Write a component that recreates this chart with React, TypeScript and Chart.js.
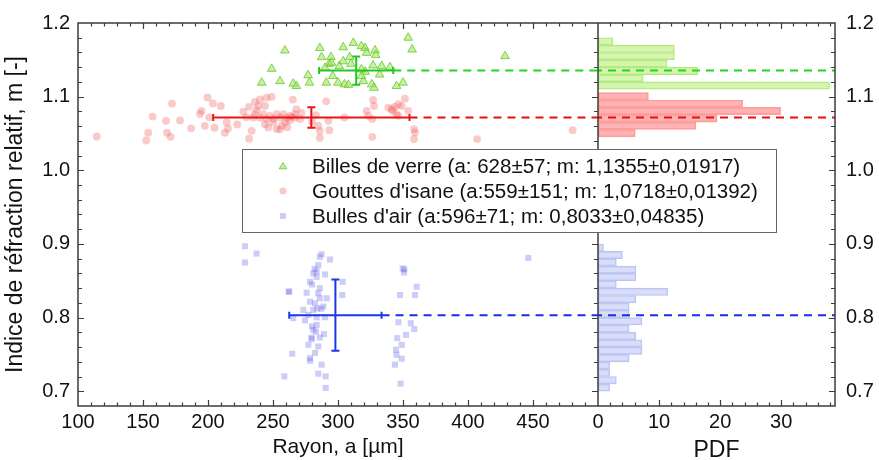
import React, { useEffect, useRef } from 'react';
import { Chart, registerables } from 'chart.js';

Chart.register(...registerables);

// ---------- axes ----------
const X_TICKS = [100, 150, 200, 250, 300, 350, 400, 450];
const X2_TICKS = [0, 10, 20, 30];
const Y_TICKS = [0.7, 0.8, 0.9, 1.0, 1.1, 1.2];
const X_MIN = 100, X_MAX = 500;
const X2_MIN = 0, X2_MAX = 38.8;
const Y_MIN = 0.68, Y_MAX = 1.2;

// ---------- series labels ----------
const LABELS = [
  'Billes de verre (a: 628±57; m: 1,1355±0,01917)',
  "Gouttes d'isane (a:559±151; m: 1,0718±0,01392)",
  "Bulles d'air (a:596±71; m: 0,8033±0,04835)",
];

// ---------- scatter: Billes de verre ----------
const GREEN_A = [259.2, 249, 241.3, 255.4, 265.6, 268, 277, 278, 286, 287.4, 294.6, 293.3, 290, 301, 304, 309, 310, 311.8, 318, 320.8, 322, 328.5, 329, 320.8, 327, 333.6, 340, 332, 291, 300, 305, 308, 319.5, 326, 327.7, 345, 350, 354, 357, 428.5, 318, 318, 304, 296, 295];
const GREEN_M = [1.1627, 1.1378, 1.119, 1.121, 1.1176, 1.1145, 1.129, 1.119, 1.166, 1.1536, 1.1536, 1.1446, 1.139, 1.1415, 1.167, 1.1536, 1.1446, 1.173, 1.1685, 1.166, 1.1595, 1.1627, 1.1564, 1.1338, 1.1424, 1.1415, 1.14, 1.13, 1.119, 1.119, 1.1167, 1.116, 1.121, 1.1167, 1.112, 1.1145, 1.119, 1.18, 1.164, 1.155, 1.137, 1.128, 1.148, 1.128, 1.146];

// ---------- scatter: Gouttes d'isane ----------
const RED_A = [114.4, 157.4, 167.7, 172.3, 178.5, 154, 152.5, 168.5, 171.3, 187, 193.8, 195, 197.5, 199.6, 203.8, 209.8, 201, 205, 213, 214.4, 215.4, 222.5, 227.2, 229.5, 231.5, 234.9, 233.6, 231.6, 236, 238.7, 240, 245, 249, 243.8, 237.4, 236, 240, 242.5, 245.2, 247.7, 250.2, 252.8, 255.4, 258, 260.5, 264.4, 267, 243.8, 246.4, 250.2, 252.8, 256.7, 259.2, 263, 270.8, 265.3, 284.8, 286, 286, 290.9, 293.3, 292.6, 305, 322, 323.3, 327, 327.7, 326.4, 326.4, 338.7, 341.3, 343.8, 346.4, 342, 345, 349, 351.5, 354, 346.4, 358.5, 359.2, 358.5, 407, 480.5, 263, 267, 255.4, 261, 272, 268, 280, 283];
const RED_M = [1.0459, 1.073, 1.0672, 1.0906, 1.0677, 1.051, 1.0405, 1.051, 1.0455, 1.057, 1.0766, 1.0807, 1.0604, 1.099, 1.0908, 1.0874, 1.072, 1.0578, 1.051, 1.065, 1.0565, 1.0622, 1.0795, 1.072, 1.0862, 1.0716, 1.0536, 1.043, 1.093, 1.0874, 1.0962, 1.0986, 1.0996, 1.0874, 1.0816, 1.0766, 1.0716, 1.0762, 1.0695, 1.074, 1.0695, 1.0762, 1.0716, 1.0762, 1.0708, 1.0726, 1.0762, 1.0627, 1.0582, 1.065, 1.056, 1.0604, 1.065, 1.0681, 1.0695, 1.096, 1.0605, 1.0536, 1.0442, 1.0937, 1.0545, 1.0672, 1.0717, 1.0807, 1.074, 1.0955, 1.0874, 1.0695, 1.0455, 1.0852, 1.083, 1.0861, 1.0897, 1.0807, 1.0762, 1.0874, 1.0973, 1.0807, 1.074, 1.056, 1.0514, 1.0424, 1.0424, 1.0545, 1.074, 1.0716, 1.0556, 1.0585, 1.078, 1.083, 1.066, 1.075];

// ---------- scatter: Bulles d'air ----------
const BLUE_A = [228.5, 237.4, 228.5, 262, 265.6, 264.8, 258.7, 274.6, 275.9, 278.5, 279.7, 281, 286, 287.4, 293.8, 284.8, 281, 283.6, 290, 278.5, 284.8, 286, 291.3, 278.5, 282.3, 288.7, 281, 277.2, 283.6, 290, 283.6, 283, 289.2, 284.8, 277.2, 282.3, 287.4, 284.8, 290.5, 290.5, 303.6, 303.3, 283.6, 273.3, 279.7, 278.5, 349.8, 350.8, 347.7, 360.5, 359.2, 346.4, 356, 358.7, 352.3, 345.6, 349, 344.6, 345, 349, 343.8, 348.2, 446.4, 282, 286, 280, 287, 284, 280, 286, 262.5, 351];
const BLUE_M = [0.8969, 0.887, 0.8748, 0.8351, 0.7992, 0.751, 0.7203, 0.7962, 0.8338, 0.745, 0.7708, 0.7834, 0.8825, 0.8861, 0.8789, 0.8712, 0.86, 0.8554, 0.8586, 0.8486, 0.833, 0.8262, 0.8262, 0.8216, 0.8195, 0.815, 0.8105, 0.8038, 0.8005, 0.8005, 0.7901, 0.7811, 0.7776, 0.7608, 0.7631, 0.7519, 0.7361, 0.7239, 0.7203, 0.7046, 0.8486, 0.8307, 0.8626, 0.8105, 0.773, 0.7415, 0.8667, 0.8613, 0.8307, 0.8419, 0.8307, 0.7938, 0.7924, 0.7843, 0.7766, 0.7721, 0.7631, 0.7564, 0.7496, 0.7442, 0.7361, 0.7104, 0.8811, 0.866, 0.84, 0.845, 0.812, 0.8125, 0.788, 0.773, 0.8355, 0.8655];

// ---------- mean ± sd (radius = a/2) ----------
const MEAN_A = [314, 279.5, 298];
const SD_A = [28.5, 75.5, 35.5];
const MEAN_M = [1.1355, 1.0718, 0.8033];
const SD_M = [0.01917, 0.01392, 0.04835];

// ---------- PDF histograms (bin centres in m, PDF values) ----------
const GREEN_BINS = [1.175, 1.165, 1.155, 1.145, 1.135, 1.125, 1.115];
const GREEN_PDF = [2.4, 12.5, 12.5, 11.3, 16.3, 7.4, 37.9];
const RED_BINS = [1.1005, 1.0905, 1.0805, 1.0705, 1.0605, 1.0505];
const RED_PDF = [8.25, 23.7, 29.9, 19.5, 16.0, 6.1];
const BLUE_BINS = [0.895, 0.885, 0.875, 0.865, 0.855, 0.845, 0.835, 0.825, 0.815, 0.805, 0.795, 0.785, 0.775, 0.765, 0.755, 0.745, 0.735, 0.725, 0.715, 0.705];
const BLUE_PDF = [0.9, 4.0, 3.0, 6.2, 6.2, 3.0, 11.4, 6.2, 5.1, 5.1, 7.2, 5.1, 6.2, 7.2, 7.2, 5.1, 1.9, 1.9, 3.0, 1.9];

// ---------- styles ----------
const FONT = "'Liberation Sans', Arial, sans-serif";
const LINE_COLORS = ['rgb(34,200,34)', 'rgb(235,20,20)', 'rgb(30,55,230)'];
const DASH_COLORS = ['rgb(30,215,30)', 'rgb(230,15,15)', 'rgb(25,45,225)'];
const POINT_FILL = ['rgba(160,230,100,0.6)', 'rgba(240,90,90,0.33)', 'rgba(100,100,230,0.32)'];
const POINT_BORDER = ['rgba(105,200,40,0.8)', 'rgba(0,0,0,0)', 'rgba(0,0,0,0)'];
const BAR_FILL = ['rgba(200,242,150,0.75)', 'rgba(255,150,150,0.72)', 'rgba(200,206,246,0.7)'];
const BAR_BORDER = ['rgba(175,232,125,1)', 'rgba(255,160,160,1)', 'rgba(188,195,242,1)'];
const CAP_DX = 3.1; // µm
const CAP_DY = 0.0048;

const toPts = (xs: number[], ys: number[]) => xs.map((x, i) => ({ x, y: ys[i] }));

function errorBar(i: number) {
  const cx = MEAN_A[i], cy = MEAN_M[i], ex = SD_A[i], ey = SD_M[i];
  const gap = { x: cx, y: null as any };
  return [
    { x: cx - ex, y: cy }, { x: cx + ex, y: cy }, gap,
    { x: cx, y: cy - ey }, { x: cx, y: cy + ey }, gap,
    { x: cx - ex, y: cy - CAP_DY }, { x: cx - ex, y: cy + CAP_DY }, gap,
    { x: cx + ex, y: cy - CAP_DY }, { x: cx + ex, y: cy + CAP_DY }, gap,
    { x: cx - CAP_DX, y: cy - ey }, { x: cx + CAP_DX, y: cy - ey }, gap,
    { x: cx - CAP_DX, y: cy + ey }, { x: cx + CAP_DX, y: cy + ey },
  ];
}

const framePlugin = {
  id: 'frameTicks',
  afterDraw(chart: any) {
    const ctx: CanvasRenderingContext2D = chart.ctx;
    const a = chart.chartArea;
    const sx = chart.scales.x, sx2 = chart.scales.x2, sy = chart.scales.y;
    const MAJ = 6, MIN = 3.5;
    ctx.save();
    ctx.strokeStyle = '#3c3c3c';
    ctx.lineWidth = 1.2;
    ctx.beginPath();
    const hTicks = (scale: any, n: number, step: number, majorEvery: number) => {
      for (let k = 0; k <= n; k++) {
        const v = scale.min + k * step;
        if (v > scale.max + 1e-9) break;
        const px = Math.round(scale.getPixelForValue(v)) + 0.5;
        if (px <= scale.left + 1.5 || px >= scale.right - 1.5) continue;
        const len = k % majorEvery === 0 ? MAJ : MIN;
        ctx.moveTo(px, a.bottom); ctx.lineTo(px, a.bottom - len);
        ctx.moveTo(px, a.top); ctx.lineTo(px, a.top + len);
      }
    };
    hTicks(sx, 40, 10, 5);
    hTicks(sx2, 20, 2, 5);
    const mid = sx.right;
    for (let k = 1; k <= 26; k++) {
      const v = Y_MIN + k * 0.02;
      if (v > Y_MAX + 1e-9) break;
      const py = Math.round(sy.getPixelForValue(v)) + 0.5;
      if (py <= a.top + 1.5 || py >= a.bottom - 1.5) continue;
      const major = Math.abs(v * 10 - Math.round(v * 10)) < 1e-6;
      const len = major ? MAJ : MIN + 0.5;
      ctx.moveTo(a.left, py); ctx.lineTo(a.left + len, py);
      ctx.moveTo(mid, py); ctx.lineTo(mid - len, py);
      ctx.moveTo(a.right, py); ctx.lineTo(a.right - len, py);
    }
    ctx.stroke();
    ctx.lineWidth = 1.5;
    ctx.strokeRect(a.left, a.top, a.right - a.left, a.bottom - a.top);
    ctx.beginPath();
    ctx.moveTo(mid, a.top); ctx.lineTo(mid, a.bottom);
    ctx.stroke();

    // legend box
    const L = 242, T = 149, R = 776, B = 232;
    ctx.fillStyle = '#ffffff';
    ctx.fillRect(L, T, R - L, B - T);
    ctx.lineWidth = 1;
    ctx.strokeStyle = '#666666';
    ctx.strokeRect(L + 0.5, T + 0.5, R - L, B - T);
    const rows = [166, 191, 216];
    const mx = 283;
    ctx.font = `20.5px ${FONT}`;
    ctx.textBaseline = 'middle';
    ctx.textAlign = 'left';
    rows.forEach((y, i) => {
      ctx.fillStyle = POINT_FILL[i];
      ctx.strokeStyle = POINT_BORDER[i];
      ctx.lineWidth = 1;
      ctx.beginPath();
      if (i === 0) {
        ctx.moveTo(mx, y - 3.5); ctx.lineTo(mx + 3.8, y + 2.8); ctx.lineTo(mx - 3.8, y + 2.8); ctx.closePath();
        ctx.fill(); ctx.stroke();
      } else if (i === 1) {
        ctx.arc(mx, y, 3.6, 0, Math.PI * 2); ctx.fill();
      } else {
        ctx.rect(mx - 3, y - 3, 6, 6); ctx.fill();
      }
      ctx.fillStyle = '#111111';
      ctx.fillText(chart.data.datasets[6 + i].label, 312, y + 1);
    });
    ctx.restore();
  },
};

export default function App() {
  const ref = useRef<HTMLCanvasElement | null>(null);
  useEffect(() => {
    if (!ref.current) return;
    Chart.defaults.font.family = FONT;
    Chart.defaults.color = '#111111';
    const datasets: any[] = [];
    // dashed mean lines (order 0, top)
    for (let i = 0; i < 3; i++) {
      datasets.push({
        type: 'line', label: 'dash' + i, xAxisID: 'x', yAxisID: 'y',
        data: [{ x: MEAN_A[i] + SD_A[i], y: MEAN_M[i] }, { x: X_MAX, y: MEAN_M[i] }],
        borderColor: DASH_COLORS[i], borderWidth: 2, borderDash: [8, 6], pointRadius: 0, order: 0,
      });
      datasets.push({
        type: 'line', label: 'dash2' + i, xAxisID: 'x2', yAxisID: 'y',
        data: [{ x: X2_MIN, y: MEAN_M[i] }, { x: X2_MAX, y: MEAN_M[i] }],
        borderColor: DASH_COLORS[i], borderWidth: 2, borderDash: [8, 6], borderDashOffset: 4, pointRadius: 0, order: 0,
      });
    }
    // scatter (indices 6,7,8)
    const styles = ['triangle', 'circle', 'rect'];
    const radii = [5, 3.9, 4.3];
    const xs = [GREEN_A, RED_A, BLUE_A];
    const ys = [GREEN_M, RED_M, BLUE_M];
    for (let i = 0; i < 3; i++) {
      datasets.push({
        type: 'scatter', label: LABELS[i], xAxisID: 'x', yAxisID: 'y',
        data: toPts(xs[i], ys[i]),
        pointStyle: styles[i], pointRadius: radii[i], pointHoverRadius: radii[i],
        backgroundColor: POINT_FILL[i], borderColor: POINT_BORDER[i], borderWidth: i === 0 ? 1 : 0,
        order: 2,
      });
    }
    // error bars
    for (let i = 0; i < 3; i++) {
      datasets.push({
        type: 'line', label: 'err' + i, xAxisID: 'x', yAxisID: 'y',
        data: errorBar(i), spanGaps: false,
        borderColor: LINE_COLORS[i], borderWidth: 2, pointRadius: 0, order: 1,
      });
    }
    // histograms
    const bins = [GREEN_BINS, RED_BINS, BLUE_BINS];
    const pdfs = [GREEN_PDF, RED_PDF, BLUE_PDF];
    for (let i = 0; i < 3; i++) {
      datasets.push({
        type: 'bar', label: 'pdf' + i, indexAxis: 'y', xAxisID: 'x2', yAxisID: 'y',
        data: bins[i].map((m, k) => ({ y: m, x: pdfs[i][k] })),
        backgroundColor: BAR_FILL[i], borderColor: BAR_BORDER[i], borderWidth: 1,
        borderSkipped: false, grouped: false, barPercentage: 1, categoryPercentage: 1,
        order: 3,
      });
    }

    const tickFont = { size: 20, family: FONT };
    const chart = new Chart(ref.current, {
      type: 'scatter',
      data: { datasets },
      options: {
        animation: false,
        responsive: false,
        events: [],
        layout: { padding: { top: 22, left: 0, right: 0, bottom: 0 } },
        plugins: { legend: { display: false }, tooltip: { enabled: false } },
        scales: {
          x: {
            type: 'linear', position: 'bottom', stack: 'bx', stackWeight: 520,
            min: X_MIN, max: X_MAX, offset: false,
            grid: { display: false, drawTicks: false, offset: false }, border: { display: false },
            afterBuildTicks: (s: any) => { s.ticks = X_TICKS.map((v) => ({ value: v })); },
            afterFit: (s: any) => { s.height = 54; },
            ticks: { font: tickFont, padding: 4, color: '#111', maxRotation: 0, autoSkip: false, callback: (v: any) => String(v) },
            title: { display: true, text: 'Rayon, a [µm]', font: { size: 21, family: FONT, lineHeight: 1 }, color: '#111', padding: { top: 0, bottom: 2 } },
          },
          x2: {
            type: 'linear', position: 'bottom', stack: 'bx', stackWeight: 237,
            min: X2_MIN, max: X2_MAX, offset: false,
            grid: { display: false, drawTicks: false, offset: false }, border: { display: false },
            afterBuildTicks: (s: any) => { s.ticks = X2_TICKS.map((v) => ({ value: v })); },
            afterFit: (s: any) => { s.height = 54; },
            ticks: { font: tickFont, padding: 4, color: '#111', maxRotation: 0, autoSkip: false, callback: (v: any) => String(v) },
            title: { display: true, text: 'PDF', font: { size: 23, family: FONT, lineHeight: 0.8 }, color: '#111', padding: { top: 0, bottom: 0 } },
          },
          y: {
            type: 'linear', position: 'left', min: Y_MIN, max: Y_MAX, offset: false,
            grid: { display: false, drawTicks: false, offset: false }, border: { display: false },
            afterBuildTicks: (s: any) => { s.ticks = Y_TICKS.map((v) => ({ value: v })); },
            afterFit: (s: any) => { s.width = 78; },
            ticks: { font: tickFont, padding: 8, color: '#111', autoSkip: false, callback: (v: any) => Number(v).toFixed(1) },
            title: { display: true, text: 'Indice de réfraction relatif, m [-]', font: { size: 23, family: FONT, lineHeight: 1 }, color: '#111', padding: { top: 4, bottom: 0 } },
          },
          y2: {
            type: 'linear', position: 'right', min: Y_MIN, max: Y_MAX, offset: false,
            grid: { display: false, drawTicks: false }, border: { display: false },
            afterBuildTicks: (s: any) => { s.ticks = Y_TICKS.map((v) => ({ value: v })); },
            afterFit: (s: any) => { s.width = 44; },
            ticks: { font: tickFont, padding: 11, color: '#111', autoSkip: false, callback: (v: any) => Number(v).toFixed(1) },
          },
        },
      } as any,
      plugins: [framePlugin as any],
    });
    return () => chart.destroy();
  }, []);
  return (
    <div style={{ position: 'fixed', left: 0, top: 0, width: 879, height: 460, background: '#fff' }}>
      <canvas ref={ref} width={879} height={460} style={{ display: 'block' }} />
    </div>
  );
}
